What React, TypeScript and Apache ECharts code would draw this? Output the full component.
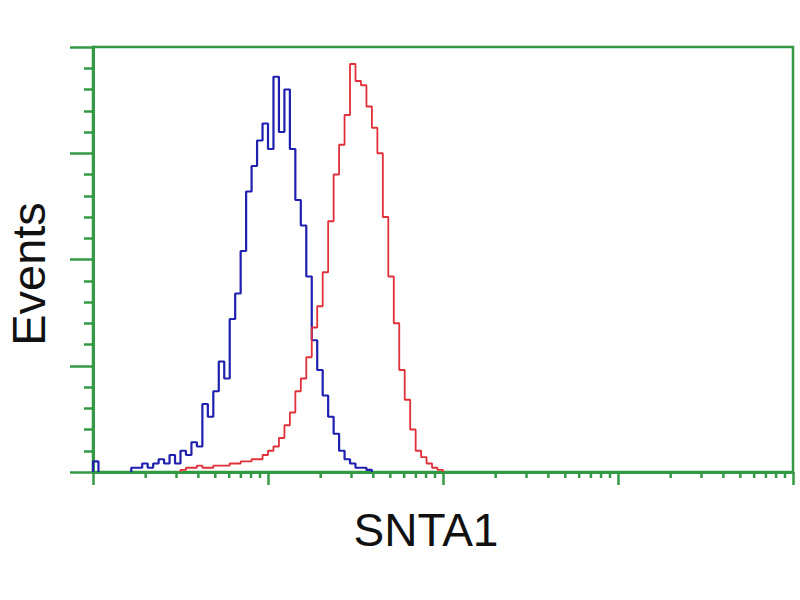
import React, { useEffect, useRef } from "react";
import * as echarts from "echarts";

// Histogram channels: 32 bins per decade, 4 decades (0..128)
const binsPerDecade = 32;
const decadeCount = 4;

// Isotype control (blue): runs of consecutive bins, each with a start bin
const blueRuns: { start: number; counts: number[] }[] = [
  { start: 0, counts: [2.5] },
  {
    start: 7,
    counts: [
      1, 1, 2, 1, 2, 3, 2, 4, 2, 5, 4, 7, 6, 16, 13, 19, 26, 22, 36, 42, 52, 66,
      72, 78, 82, 76, 93, 80, 90, 76, 64, 58, 46, 31, 24, 18, 13, 9, 5, 3, 2, 1,
      1, 0.5,
    ],
  },
];

// SNTA1 stained (red)
const redRuns: { start: number; counts: number[] }[] = [
  {
    start: 16,
    counts: [
      0.5, 1, 1, 1.5, 1, 1, 1.5, 1.5, 1.5, 2, 2, 2.5, 2.5, 3, 3, 4, 5, 6, 8, 11,
      14, 19, 22, 27, 34, 39, 47, 59, 70, 77, 84, 96, 92, 91, 86, 81, 75, 60, 46,
      35, 24, 17, 10, 5, 3.5, 2, 1, 0.5,
    ],
  },
];

const minorMultipliers = [2, 3, 4, 5, 6, 7, 8, 9];
const xAxisTitle = "SNTA1";
const yAxisTitle = "Events";

const GREEN = "#339944";
const BLUE = "#1f1fb0";
const RED = "#e0303a";
const FONT = "'Liberation Sans', Arial, sans-serif";

function toStepData(runs: { start: number; counts: number[] }[]) {
  const out: any[] = [];
  runs.forEach((run, ri) => {
    if (ri > 0) out.push(["-", "-"]);
    out.push([run.start, 0]);
    run.counts.forEach((v, i) => out.push([run.start + i, v]));
    out.push([run.start + run.counts.length, 0]);
  });
  return out;
}

const minorTickPositions: number[][] = [];
for (let d = 0; d < decadeCount; d++) {
  minorMultipliers.forEach((k) => {
    minorTickPositions.push([binsPerDecade * (d + Math.log10(k)), 0]);
  });
}

export default function App() {
  const ref = useRef<HTMLDivElement>(null);
  useEffect(() => {
    if (!ref.current) return;
    const chart = echarts.init(ref.current, undefined, { renderer: "svg" });
    chart.setOption({
      animation: false,
      backgroundColor: "#ffffff",
      grid: {
        left: 93,
        right: 7,
        top: 47,
        bottom: 128,
        show: true,
        borderColor: GREEN,
        borderWidth: 2.5,
        backgroundColor: "transparent",
      },
      xAxis: {
        type: "value",
        min: 0,
        max: binsPerDecade * decadeCount,
        interval: binsPerDecade,
        axisLine: { show: true, lineStyle: { color: GREEN, width: 3 } },
        axisTick: {
          show: true,
          length: 13,
          lineStyle: { color: GREEN, width: 2.5 },
        },
        axisLabel: { show: false },
        splitLine: { show: false },
      },
      yAxis: {
        type: "value",
        min: 0,
        max: 100,
        interval: 25,
        axisLine: { show: true, lineStyle: { color: GREEN, width: 3 } },
        axisTick: {
          show: true,
          length: 23,
          lineStyle: { color: GREEN, width: 2.5 },
        },
        minorTick: {
          show: true,
          splitNumber: 5,
          length: 9,
          lineStyle: { color: GREEN, width: 2.5 },
        },
        axisLabel: { show: false },
        splitLine: { show: false },
      },
      graphic: [
        {
          type: "text",
          x: 28,
          y: 274,
          rotation: Math.PI / 2,
          style: {
            text: yAxisTitle,
            font: `47px ${FONT}`,
            fill: "#111111",
            align: "center",
            verticalAlign: "middle",
          },
        },
        {
          type: "text",
          x: 426,
          y: 530,
          style: {
            text: xAxisTitle,
            font: `46px ${FONT}`,
            fill: "#111111",
            align: "center",
            verticalAlign: "middle",
          },
        },
      ],
      series: [
        {
          type: "custom",
          clip: false,
          silent: true,
          data: minorTickPositions,
          renderItem: (params: any, api: any) => {
            const p = api.coord([api.value(0), 0]);
            return {
              type: "line",
              shape: { x1: p[0], y1: p[1], x2: p[0], y2: p[1] + 6 },
              style: { stroke: GREEN, lineWidth: 2.5 },
            };
          },
          z: 1,
        },
        {
          name: "control",
          type: "line",
          step: "end",
          showSymbol: false,
          data: toStepData(blueRuns),
          lineStyle: { color: BLUE, width: 2.2 },
          z: 3,
        },
        {
          name: "SNTA1",
          type: "line",
          step: "end",
          showSymbol: false,
          data: toStepData(redRuns),
          lineStyle: { color: RED, width: 1.8 },
          z: 4,
        },
      ],
    });
    return () => chart.dispose();
  }, []);
  return (
    <div
      ref={ref}
      style={{ position: "absolute", left: 0, top: 0, width: 800, height: 600 }}
    />
  );
}
